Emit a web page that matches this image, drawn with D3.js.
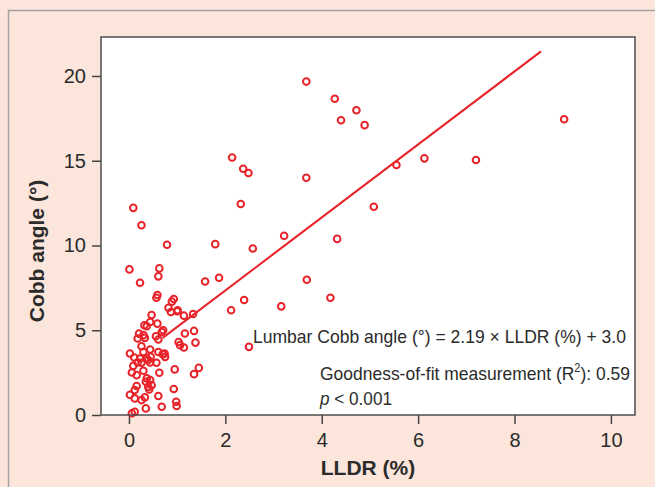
<!DOCTYPE html>
<html>
<head>
<meta charset="utf-8">
<script src="https://cdn.jsdelivr.net/npm/d3@7"></script>
<style>
  body { margin: 0; background: #fce5db; }
  svg { display: block; font-family: "Liberation Sans", Arial, sans-serif; }
</style>
</head>
<body>
<div id="vis"></div>
<script>
// LLDR (%) per patient
var lldr = [3.68, 4.27, 4.72, 4.40, 4.89, 2.14, 2.37, 2.48, 3.68, 2.32, 5.55, 5.08,
    6.13, 7.20, 9.03,
    1.79, 2.57, 3.22, 4.32, 1.58, 1.87, 3.69, 4.18, 2.39, 2.12, 3.16, 2.49,
    0.09, 0.26, 0.79, 0.01, 0.63, 0.61, 0.23, 0.59, 0.57, 0.93, 0.89, 0.82, 1.01,
    0.87, 1.00, 1.14, 1.33, 0.47, 0.32, 0.37, 0.44, 0.59, 0.68, 0.71,
    0.21, 0.18, 0.30, 0.33, 0.56, 0.61, 1.16, 1.35, 1.03, 1.06, 1.14, 1.38,
    0.26, 0.44, 0.30, 0.02, 0.11, 0.23, 0.37, 0.45, 0.61, 0.70, 0.75, 0.74,
    0.40, 0.44, 0.57, 0.18, 0.26, 0.09, 0.06, 0.16, 0.30, 0.63, 0.95, 1.35, 1.45,
    0.37, 0.44, 0.35, 0.40, 0.47, 0.42, 0.16, 0.12, 0.93, 0.02, 0.12, 0.26, 0.33,
    0.61, 0.98, 0.99, 0.68, 0.35, 0.06, 0.12];

// lumbar Cobb angle (°) per patient
var cobb = [19.67, 18.66, 17.98, 17.39, 17.10, 15.19, 14.53, 14.28, 14.00, 12.45, 14.75, 12.29,
    15.14, 15.04, 17.45,
    10.08, 9.82, 10.57, 10.39, 7.88, 8.10, 7.98, 6.92, 6.78, 6.18, 6.41, 4.02,
    12.22, 11.19, 10.04, 8.59, 8.65, 8.18, 7.80, 7.08, 6.92, 6.84, 6.69, 6.33, 6.18,
    6.08, 6.12, 5.86, 5.96, 5.90, 5.29, 5.24, 5.49, 5.39, 4.90, 5.00,
    4.80, 4.51, 4.71, 4.55, 4.65, 4.45, 4.81, 4.96, 4.31, 4.12, 3.98, 4.27,
    4.06, 3.86, 3.72, 3.63, 3.39, 3.33, 3.33, 3.43, 3.72, 3.59, 3.43, 3.63,
    3.24, 3.10, 3.08, 3.10, 3.08, 2.90, 2.51, 2.35, 2.61, 2.49, 2.69, 2.41, 2.78,
    2.16, 2.06, 1.96, 1.66, 1.76, 1.51, 1.71, 1.47, 1.53, 1.19, 0.98, 0.88, 1.04,
    1.12, 0.78, 0.53, 0.49, 0.39, 0.10, 0.19];

// fitted line ends (LLDR, Cobb)
var fit_x = [0.7, 8.55];
var fit_y = [4.55, 21.45];

var x_ticks = [0, 2, 4, 6, 8, 10];
var y_ticks = [0, 5, 10, 15, 20];

var width = 655;
var height = 487;

var margin = {
    top: 37,
    left: 101
};

var svg = d3.select('#vis')
    .append('svg')
    .attr('width', width)
    .attr('height', height);

// outer frame
svg.append('rect')
    .attr('x', 8.5)
    .attr('y', 10.5)
    .attr('width', 700)
    .attr('height', 500)
    .attr('fill', '#fce5db')
    .attr('stroke', '#a3a3a3')
    .attr('stroke-width', 1.5);

var w = 534;
var h = 378;

var g = svg.append('g')
    .attr('transform', 'translate(' + margin.left + ',' + margin.top + ')');

var x_scale = d3.scaleLinear()
    .domain([-0.58, 10.5])
    .range([0, w]);

var y_scale = d3.scaleLinear()
    .domain([0, 22.3])
    .range([h, 0]);

g.append('rect')
    .attr('width', w)
    .attr('height', h)
    .attr('fill', 'white');

var x_axis = d3.axisBottom(x_scale)
    .tickValues(x_ticks)
    .tickSize(9)
    .tickSizeOuter(0)
    .tickPadding(9);

var y_axis = d3.axisLeft(y_scale)
    .tickValues(y_ticks)
    .tickSize(9)
    .tickSizeOuter(0)
    .tickPadding(6);

g.append('g')
    .attr('class', 'x axis')
    .attr('transform', 'translate(0,' + h + ')')
    .call(x_axis);

g.append('g')
    .attr('class', 'y axis')
    .call(y_axis);

g.selectAll('.axis .domain').remove();
g.selectAll('.axis line')
    .attr('stroke', '#444')
    .attr('stroke-width', 1.5);
g.selectAll('.axis text')
    .attr('fill', '#2b2b2b')
    .style('font-size', '20px')
    .style('font-family', '"Liberation Sans", Arial, sans-serif');

// fitted line
var fit = fit_x.map(function(d, i) {
    return [d, fit_y[i]];
});

g.append('path')
    .datum(fit)
    .attr('fill', 'none')
    .attr('stroke', '#e8232a')
    .attr('stroke-width', 2.1)
    .attr('d', d3.line()
        .x(function(d) { return x_scale(d[0]); })
        .y(function(d) { return y_scale(d[1]); }));

var points = lldr.map(function(d, i) {
    return { x: d, y: cobb[i] };
});

g.selectAll('.dot')
    .data(points)
    .enter()
    .append('circle')
    .attr('class', 'dot')
    .attr('cx', function(d) { return x_scale(d.x); })
    .attr('cy', function(d) { return y_scale(d.y); })
    .attr('r', 3.3)
    .attr('fill', 'none')
    .attr('stroke', '#e8232a')
    .attr('stroke-width', 2);

// plot box
g.append('rect')
    .attr('width', w)
    .attr('height', h)
    .attr('fill', 'none')
    .attr('stroke', '#4d4d4d')
    .attr('stroke-width', 1.5);

// annotations
var note = g.append('g')
    .attr('fill', '#2b2b2b')
    .style('font-size', '19px');

note.append('text')
    .attr('x', 152)
    .attr('y', 306)
    .attr('textLength', 373)
    .attr('lengthAdjust', 'spacingAndGlyphs')
    .text('Lumbar Cobb angle (°) = 2.19 × LLDR (%) + 3.0');

var gof = note.append('text')
    .attr('x', 219)
    .attr('y', 343)
    .attr('textLength', 310)
    .attr('lengthAdjust', 'spacingAndGlyphs');
gof.append('tspan').text('Goodness-of-fit measurement (R');
gof.append('tspan').attr('dy', -8).style('font-size', '12px').text('2');
gof.append('tspan').attr('dy', 8).text('): 0.59');

var pv = note.append('text')
    .attr('x', 219)
    .attr('y', 368)
    .attr('textLength', 72)
    .attr('lengthAdjust', 'spacingAndGlyphs');
pv.append('tspan').style('font-style', 'italic').text('p');
pv.append('tspan').text(' < 0.001');

// axis titles
svg.append('text')
    .attr('x', 368)
    .attr('y', 475)
    .attr('text-anchor', 'middle')
    .attr('fill', '#2b2b2b')
    .style('font-size', '21px')
    .style('font-weight', 'bold')
    .text('LLDR (%)');

svg.append('text')
    .attr('transform', 'translate(44,251) rotate(-90)')
    .attr('text-anchor', 'middle')
    .attr('fill', '#2b2b2b')
    .style('font-size', '21px')
    .style('font-weight', 'bold')
    .text('Cobb angle (°)');
</script>
</body>
</html>
